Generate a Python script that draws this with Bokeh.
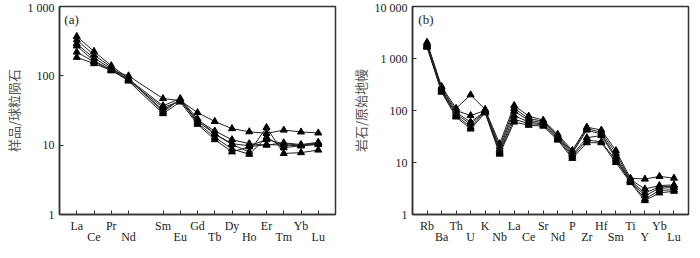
from bokeh.plotting import figure
from bokeh.models import FixedTicker, LinearAxis, Label, Range1d
from bokeh.layouts import row
from bokeh.embed import file_html
from bokeh.resources import INLINE

# ---------------- data ----------------
# (a) chondrite-normalised REE; "" marks the empty Pm slot
ree_slots = ["La", "Ce", "Pr", "Nd", "", "Sm", "Eu", "Gd", "Tb", "Dy", "Ho", "Er", "Tm", "Yb", "Lu"]
ree_s1 = [185, 150, 120, 100, 47, 44, 29.5, 22, 17.3, 15.6, 14.8, 16.5, 15.5, 15.0]
ree_s2 = [370, 225, 140, 92, 30, 46, 22, 14.5, 10.2, 8.0, 18.0, 7.6, 7.8, 8.5]
ree_s3 = [330, 200, 133, 88, 32, 45, 21, 13, 8.8, 7.4, 13.0, 9.2, 9.8, 10.5]
ree_s4 = [290, 180, 127, 86, 35, 43, 23, 16, 12.0, 10.5, 10.0, 10.8, 10.2, 11.0]
ree_s5 = [270, 165, 122, 84, 28.5, 42, 20, 12, 8.0, 9.5, 10.2, 10.0, 9.8, 10.2]
ree_s6 = [220, 160, 118, 90, 37, 47, 24, 14.5, 10.5, 9.8, 12.0, 10.5, 10.0, 10.8]
ree_series = [ree_s1, ree_s2, ree_s3, ree_s4, ree_s5, ree_s6]

# (b) primitive-mantle-normalised trace elements
tr_slots = ["Rb", "Ba", "Th", "U", "K", "Nb", "La", "Ce", "Sr", "Nd", "P", "Zr", "Hf", "Sm", "Ti", "Y", "Yb", "Lu"]
tr_s1 = [2050, 290, 110, 200, 105, 23, 125, 78, 65, 35, 17, 48, 42, 17, 5.0, 4.8, 5.4, 5.0]
tr_s2 = [1950, 270, 100, 80, 100, 20, 110, 70, 62, 33, 16, 45, 38, 15, 4.7, 3.1, 3.6, 3.7]
tr_s3 = [1850, 255, 92, 60, 97, 18, 97, 65, 58, 31, 15, 42, 35, 13, 4.5, 2.6, 3.4, 3.5]
tr_s4 = [1750, 245, 85, 55, 95, 16.5, 80, 60, 55, 30, 14, 30, 33, 12, 4.4, 2.3, 3.2, 3.3]
tr_s5 = [1700, 235, 80, 48, 93, 15.5, 68, 56, 53, 28, 13, 27, 25, 11, 4.3, 2.0, 2.9, 3.0]
tr_s6 = [1650, 225, 75, 44, 90, 14.5, 60, 52, 50, 27, 12, 24, 24, 10, 4.1, 1.85, 2.6, 2.8]
tr_series = [tr_s1, tr_s2, tr_s3, tr_s4, tr_s5, tr_s6]

a_yticks = [1, 10, 100, 1000]
a_ylabels = ["1", "10", "100", "1 000"]
b_yticks = [1, 10, 100, 1000, 10000]
b_ylabels = ["1", "10", "100", "1 000", "10 000"]

SERIF = "Liberation Serif"
CJK = "Noto Sans CJK SC"


def panel(slots, series, yticks, ylabels, ylabel, tag, bl, br, tagx, tagy):
    pos = [i for i, s in enumerate(slots) if s]
    names = [s for s in slots if s]
    n = len(slots)
    p = figure(frame_width=276, frame_height=208, y_axis_type="log",
               x_range=Range1d(-1, n), y_range=Range1d(yticks[0], yticks[-1]),
               output_backend="svg", toolbar_location=None,
               min_border_left=bl, min_border_right=br, min_border_top=6,
               min_border_bottom=0)
    p.grid.visible = False
    p.outline_line_color = "#333333"
    p.outline_line_width = 1.5
    p.background_fill_color = "white"
    p.border_fill_color = "white"

    for s in series:
        p.line(pos, s, line_color="#222222", line_width=1)
        p.scatter(pos, s, marker="triangle", size=7, fill_color="black",
                  line_color="black")

    # y axis
    ya = p.yaxis[0]
    ya.ticker = FixedTicker(ticks=yticks, minor_ticks=[])
    ya.major_label_overrides = {t: l for t, l in zip(yticks, ylabels)}
    ya.major_tick_in = 4
    ya.major_tick_out = 0
    ya.minor_tick_line_color = None
    ya.axis_line_width = 1.5
    ya.axis_line_color = "#333333"
    ya.major_tick_line_color = "#333333"
    ya.major_label_text_font = SERIF
    ya.major_label_text_font_size = "12px"
    ya.major_label_text_color = "#222222"
    ya.axis_label = ylabel
    ya.axis_label_text_font = CJK
    ya.axis_label_text_font_style = "normal"
    ya.axis_label_text_font_size = "13px"
    ya.axis_label_text_color = "#555555"
    ya.axis_label_standoff = 2

    # x axis, first row of labels
    xa = p.xaxis[0]
    xa.ticker = FixedTicker(ticks=pos, minor_ticks=[])
    xa.major_label_overrides = {q: (nm if k % 2 == 0 else "") for k, (q, nm) in enumerate(zip(pos, names))}
    xa.major_tick_in = 4
    xa.major_tick_out = 0
    xa.axis_line_width = 1.5
    xa.axis_line_color = "#333333"
    xa.major_tick_line_color = "#333333"
    xa.major_label_text_font = SERIF
    xa.major_label_text_font_size = "12px"
    xa.major_label_text_color = "#222222"
    xa.major_label_standoff = 4

    # second row of labels
    odd_pos = [q for k, q in enumerate(pos) if k % 2 == 1]
    xb = LinearAxis(ticker=FixedTicker(ticks=odd_pos, minor_ticks=[]),
                    major_label_overrides={q: nm for k, (q, nm) in enumerate(zip(pos, names)) if k % 2 == 1},
                    axis_line_color=None, major_tick_line_color=None,
                    minor_tick_line_color=None,
                    major_label_text_font=SERIF, major_label_text_font_size="12px",
                    major_label_text_color="#222222", major_label_standoff=-12)
    p.add_layout(xb, "below")

    p.add_layout(Label(x=tagx, y=tagy, text=tag, text_baseline="top",
                       text_align="left", text_font=SERIF,
                       text_font_size="13px", text_color="#222222"))
    return p


pa = panel(ree_slots, ree_series, a_yticks, a_ylabels, "样品/球粒陨石", "(a)",
           48, 12, -0.72, 820)
pb = panel(tr_slots, tr_series, b_yticks, b_ylabels, "岩石/原始地幔", "(b)",
           56, 8, -0.6, 7700)

layout = row(pa, pb)
open("out.html", "w").write(file_html(layout, INLINE))
